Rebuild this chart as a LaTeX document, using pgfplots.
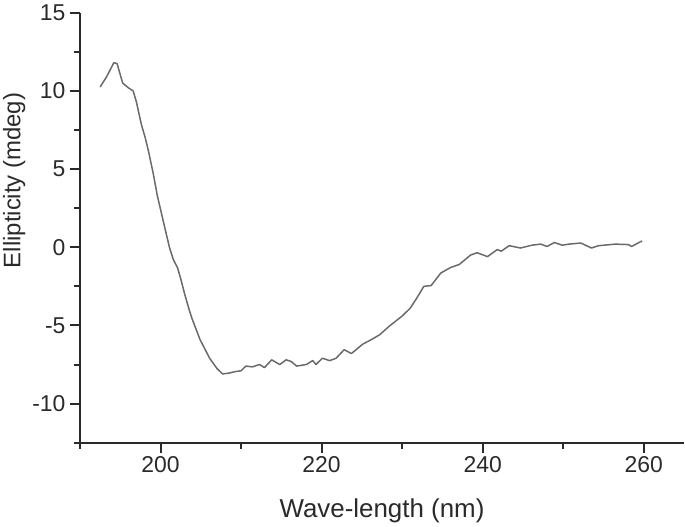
\documentclass[border=0pt]{standalone}
\usepackage{fontspec}
\setmainfont{Liberation Sans}
\usepackage{pgfplots}
\pgfplotsset{compat=1.18}
\definecolor{axisgray}{HTML}{2A2A2A}
\definecolor{curvegray}{HTML}{6A6A6A}

\begin{document}
\begin{tikzpicture}
  \begin{axis}[
    scale only axis,
    width=604bp, height=430bp,
    xmin=190, xmax=265,
    ymin=-12.5, ymax=15,
    axis lines=left,
    axis line style={-, draw=axisgray, line width=2.4bp},
    tick align=outside,
    tick style={draw=axisgray, line width=2bp},
    major tick length=10bp,
    minor tick length=6bp,
    xtick={200,220,240,260},
    minor xtick={190,210,230,250},
    ytick={-10,-5,0,5,10,15},
    yticklabels={-10,-5,0,5,10,15},
    xticklabels={200,220,240,260},
    minor ytick={-12.5,-7.5,-2.5,2.5,7.5,12.5},
    tick label style={font=\fontsize{23}{26}\selectfont, text=axisgray},
    yticklabel style={xshift=-1bp},
    xlabel={Wave-length (nm)},
    ylabel={Ellipticity (mdeg)},
    xlabel style={font=\fontsize{26}{30}\selectfont, text=axisgray,
      at={(axis description cs:0.5,-0.158)}, anchor=center},
    ylabel style={font=\fontsize{24}{28}\selectfont, text=axisgray,
      at={(axis description cs:-0.109,0.61)}, anchor=center},
    clip=false,
  ]
    % CD spectrum
    \addplot[curvegray, line width=1.5bp, line join=round] coordinates {
      (192.5,10.25) (193.3,10.9) (193.8,11.4) (194.2,11.8) (194.6,11.75)
      (195.3,10.5) (196.0,10.2) (196.6,10.0) (197.0,9.3) (197.6,7.9)
      (198.1,7.0) (198.5,6.15) (199.1,4.7) (199.6,3.3) (200.1,2.2)
      (200.6,1.1) (201.1,0.0) (201.6,-0.8) (202.1,-1.3) (202.5,-2.0)
      (203.0,-3.0) (203.5,-3.9) (203.9,-4.55) (204.9,-5.9) (205.5,-6.5)
      (206.1,-7.1) (207.0,-7.75) (207.7,-8.1) (208.5,-8.05) (209.3,-7.95)
      (210.0,-7.9) (210.6,-7.6) (211.4,-7.65) (212.3,-7.5) (212.9,-7.7)
      (213.8,-7.2) (214.8,-7.5) (215.6,-7.2) (216.2,-7.3) (216.9,-7.6)
      (218.1,-7.5) (218.9,-7.25) (219.3,-7.5) (220.1,-7.1) (221.0,-7.25)
      (221.8,-7.1) (222.8,-6.55) (223.7,-6.8) (225.1,-6.2) (226.2,-5.9)
      (227.2,-5.6) (228.4,-5.05) (230.0,-4.4) (231.0,-3.9) (231.7,-3.35)
      (232.7,-2.5) (233.6,-2.45) (234.8,-1.65) (236.0,-1.3) (237.1,-1.1)
      (238.5,-0.5) (239.3,-0.35) (240.6,-0.6) (241.8,-0.15) (242.3,-0.25)
      (243.3,0.1) (244.7,-0.05) (246.1,0.13) (247.2,0.2) (248.0,0.05)
      (248.9,0.3) (249.9,0.13) (250.7,0.2) (252.2,0.27) (253.5,-0.05)
      (254.4,0.1) (256.5,0.2) (258.1,0.17) (258.5,0.05) (259.4,0.3)
      (259.8,0.4)
    };
    \coordinate (bl) at (rel axis cs:0,0);
  \end{axis}
  \pgfresetboundingbox
  \useasboundingbox ([shift={(-80bp,-84.3bp)}]bl) rectangle ([shift={(605bp,442.7bp)}]bl);
\end{tikzpicture}
\end{document}
